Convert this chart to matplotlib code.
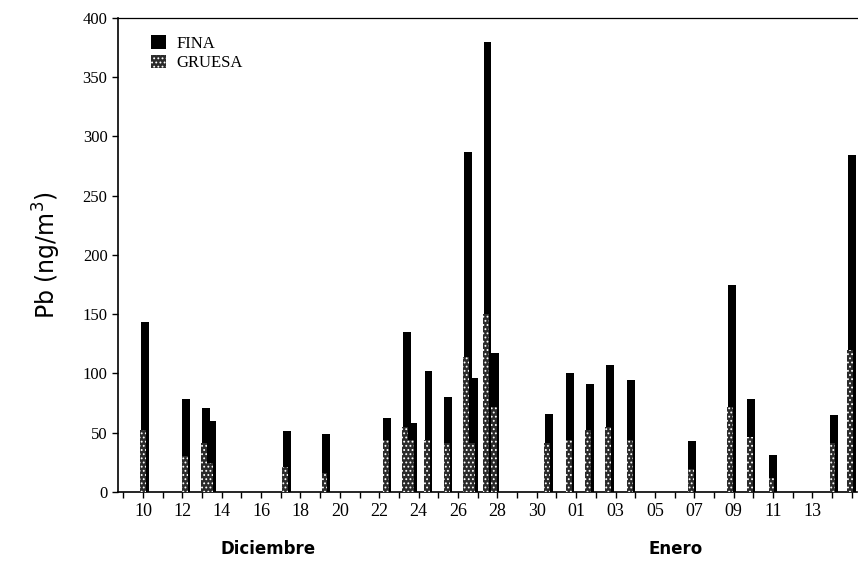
import matplotlib
matplotlib.use("Agg")
import matplotlib.pyplot as plt

# sample position in days counted from 10 Dec (0) to 14 Jan (35)
sample_day = [0.1, 2.2, 3.2, 3.5, 7.3, 9.3, 12.4, 13.4, 13.7, 14.5, 15.5, 16.5, 16.8,
              17.5, 17.9, 20.6, 21.7, 22.7, 23.7, 24.8, 27.9, 29.9, 30.9, 32.0, 35.1, 36.0]
fina = [143, 78, 71, 60, 51, 49, 62, 135, 58, 102, 80, 287, 96,
        380, 117, 66, 100, 91, 107, 94, 43, 175, 78, 31, 65, 284]
gruesa = [52, 30, 41, 24, 21, 16, 44, 55, 44, 44, 41, 114, 41,
          150, 72, 41, 44, 52, 55, 44, 19, 72, 46, 12, 41, 120]

tick_days = list(range(0, 35, 2))
tick_labels = ["10", "12", "14", "16", "18", "20", "22", "24", "26", "28", "30",
               "01", "03", "05", "07", "09", "11", "13"]

plt.rcParams['hatch.linewidth'] = 0.8

fig = plt.figure(figsize=(8.58, 5.64), dpi=100)
ax = fig.add_axes([0.1375, 0.128, 0.861, 0.84])

ax.bar(sample_day, fina, width=0.4, color='black', label='FINA', zorder=2)
ax.bar([d - 0.08 for d in sample_day], gruesa, width=0.3, color='#2a2a2a',
       edgecolor='white', linewidth=0, hatch='....', label='GRUESA', zorder=3)

ax.set_xlim(-1.27, 36.25)
ax.set_ylim(0, 400)
ax.set_yticks(range(0, 401, 50))
ax.set_yticklabels([str(v) for v in range(0, 401, 50)], family='Liberation Serif',
                   fontsize=12)
ax.set_xticks(tick_days)
ax.set_xticks(range(-1, 37), minor=True)
ax.set_xticklabels(tick_labels, family='Liberation Serif', fontsize=13)
ax.tick_params(axis='both', which='both', direction='out', length=4, width=1)
ax.tick_params(axis='x', which='major', pad=4)

ax.spines['right'].set_visible(False)
for s in ['left', 'bottom']:
    ax.spines[s].set_linewidth(1.2)
ax.spines['top'].set_linewidth(0.9)

ax.set_ylabel('Pb (ng/m$^3$)', fontsize=17, family='DejaVu Sans', labelpad=14)

fig.text(268 / 858, 1 - 549 / 564, 'Diciembre', ha='center', va='center',
         fontsize=12, fontweight='bold', family='DejaVu Sans')
fig.text(676 / 858, 1 - 549 / 564, 'Enero', ha='center', va='center',
         fontsize=12, fontweight='bold', family='DejaVu Sans')

ax.legend(loc='upper left', bbox_to_anchor=(0.025, 0.995), frameon=False,
          prop={'family': 'Liberation Serif', 'size': 12},
          handlelength=0.9, handleheight=0.9, handletextpad=0.6, labelspacing=0.15)

fig.savefig('out.png', dpi=100)
